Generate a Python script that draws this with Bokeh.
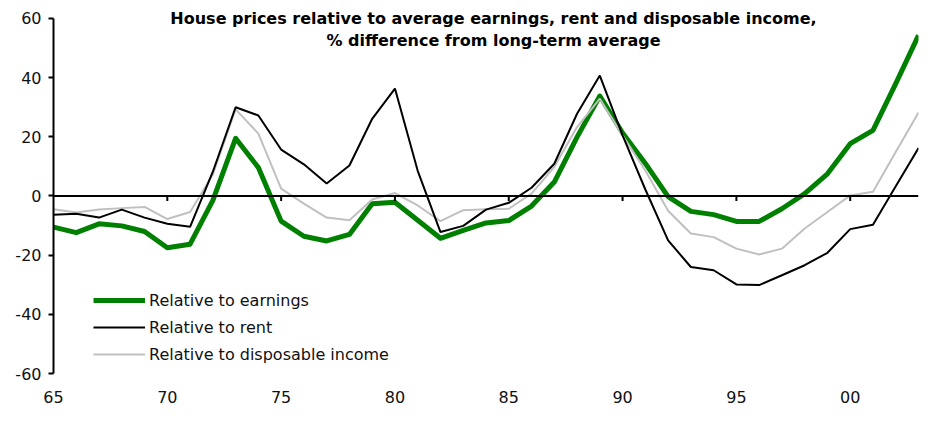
from bokeh.plotting import figure
from bokeh.models import Legend, LegendItem, Label, FixedTicker, Span
from bokeh.embed import file_html
from bokeh.resources import INLINE

years = list(range(1965, 2004))

rel_earnings = [-10.5, -12.4, -9.4, -10.1, -12.0, -17.5, -16.3, -1.5, 19.5, 9.6,
                -8.5, -13.6, -15.2, -13.0, -2.6, -2.1, -8.2, -14.3, -11.6, -9.1,
                -8.3, -3.4, 4.7, 19.9, 33.8, 21.3, 11.0, -0.2, -5.2, -6.3,
                -8.6, -8.6, -4.3, 0.8, 7.5, 17.7, 22.2, 38.0, 54.3]

rel_rent = [-6.3, -6.0, -7.3, -4.6, -7.3, -9.4, -10.4, 8.2, 30.0, 27.2,
            15.7, 10.7, 4.2, 10.3, 26.1, 36.3, 8.5, -12.2, -10.1, -4.6,
            -2.3, 2.8, 10.9, 27.8, 40.7, 20.5, 2.2, -15.0, -24.0, -25.1,
            -29.9, -30.1, -26.8, -23.4, -19.2, -11.2, -9.7, 3.3, 16.2]

rel_disposable = [-4.5, -5.6, -4.6, -4.1, -3.7, -7.8, -5.4, 7.3, 29.3, 21.1,
                  2.5, -2.6, -7.3, -8.2, -1.2, 1.0, -3.2, -8.5, -4.8, -4.5,
                  -4.3, 0.8, 9.8, 23.3, 32.9, 20.5, 8.6, -5.0, -12.7, -13.9,
                  -17.8, -19.8, -17.8, -11.0, -5.4, 0.2, 1.4, 14.9, 28.2]

series_names = ["Relative to earnings", "Relative to rent", "Relative to disposable income"]

x_ticks = [1965, 1970, 1975, 1980, 1985, 1990, 1995, 2000]
x_tick_labels = ["65", "70", "75", "80", "85", "90", "95", "00"]
y_ticks = [-60, -40, -20, 0, 20, 40, 60]
y_tick_labels = ["-60", "-40", "-20", "0", "20", "40", "60"]

title_lines = ["House prices relative to average earnings, rent and disposable income,",
               "% difference from long-term average"]

FONT = "DejaVu Sans"
TICK_LEN = 1.7  # length of zero-line ticks, in y units (~5px)

p = figure(width=938, height=415, x_range=(1965, 2003), y_range=(-60, 64.73),
           output_backend="svg", toolbar_location=None,
           min_border_left=53, min_border_right=20, min_border_top=4, min_border_bottom=42)
p.outline_line_color = None
p.xgrid.grid_line_color = None
p.ygrid.grid_line_color = None
p.background_fill_color = "white"
p.border_fill_color = "white"

# y axis
p.yaxis.ticker = FixedTicker(ticks=y_ticks)
p.yaxis.bounds = (y_ticks[0], y_ticks[-1])
p.yaxis.major_label_overrides = {t: l for t, l in zip(y_ticks, y_tick_labels)}
p.yaxis.axis_line_width = 2
p.yaxis.axis_line_color = "black"
p.yaxis.major_tick_out = 5
p.yaxis.major_tick_in = 0
p.yaxis.major_tick_line_width = 2
p.yaxis.major_tick_line_color = "black"
p.yaxis.minor_tick_line_color = None
p.yaxis.major_label_standoff = 7
p.yaxis.major_label_text_font = FONT
p.yaxis.major_label_text_font_size = "16px"
p.yaxis.major_label_text_color = "#111111"

# x axis labels at bottom
p.xaxis.ticker = FixedTicker(ticks=x_ticks)
p.xaxis.major_label_overrides = {t: l for t, l in zip(x_ticks, x_tick_labels)}
p.xaxis.axis_line_color = None
p.xaxis.major_tick_line_color = None
p.xaxis.minor_tick_line_color = None
p.xaxis.major_tick_out = 0
p.xaxis.major_tick_in = 0
p.xaxis.major_label_standoff = 17
p.xaxis.major_label_text_font = FONT
p.xaxis.major_label_text_font_size = "16px"
p.xaxis.major_label_text_color = "#111111"

r_earn = p.line(years, rel_earnings, line_color="#008000", line_width=5, line_join="round")
r_disp = p.line(years, rel_disposable, line_color="#C0C0C0", line_width=2)
r_rent = p.line(years, rel_rent, line_color="black", line_width=2)

# zero line with ticks
p.add_layout(Span(location=0, dimension="width", line_color="black", line_width=2))
p.segment(x0=x_ticks[1:], y0=[0] * (len(x_ticks) - 1),
          x1=x_ticks[1:], y1=[-TICK_LEN] * (len(x_ticks) - 1),
          line_color="black", line_width=2)

legend = Legend(items=[LegendItem(label=series_names[0], renderers=[r_earn]),
                       LegendItem(label=series_names[1], renderers=[r_rent]),
                       LegendItem(label=series_names[2], renderers=[r_disp])],
                location=(40, 9), orientation="vertical",
                border_line_color=None, background_fill_alpha=0,
                padding=0, margin=0, spacing=7,
                glyph_width=52, glyph_height=20, label_height=20, label_standoff=4,
                label_text_font=FONT, label_text_font_size="16px",
                label_text_color="#111111")
p.add_layout(legend)

title_y = [60, 52.6]
for line, ty in zip(title_lines, title_y):
    p.add_layout(Label(x=1984.33, y=ty, text=line, text_align="center",
                       text_baseline="middle", text_font=FONT,
                       text_font_style="bold", text_font_size="16px",
                       text_color="black"))

open("out.html", "w").write(file_html(p, INLINE))
